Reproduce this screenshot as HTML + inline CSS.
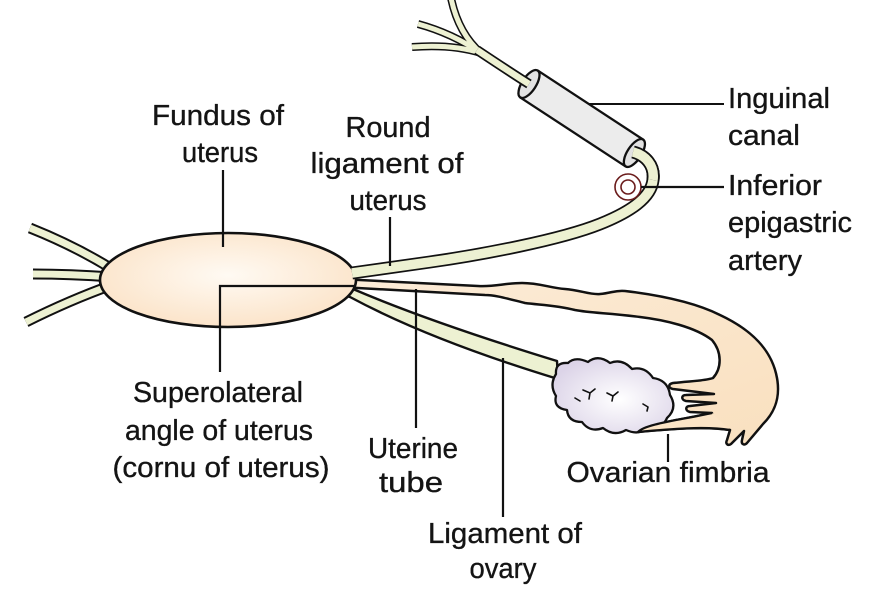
<!DOCTYPE html>
<html>
<head>
<meta charset="utf-8">
<style>
  html,body{margin:0;padding:0;background:#fff;}
  svg{display:block;}
  text{font-family:"Liberation Sans",sans-serif;font-size:29px;fill:#141414;stroke:#141414;stroke-width:0.35px;}
</style>
</head>
<body>
<svg width="872" height="600" viewBox="0 0 872 600" xmlns="http://www.w3.org/2000/svg">
  <defs>
    <radialGradient id="ug" cx="0.5" cy="0.45" r="0.6">
      <stop offset="0" stop-color="#fffaf3"/>
      <stop offset="1" stop-color="#fbe2c6"/>
    </radialGradient>
    <radialGradient id="og" cx="0.55" cy="0.55" r="0.6">
      <stop offset="0" stop-color="#ffffff"/>
      <stop offset="1" stop-color="#dcd4e8"/>
    </radialGradient>
    <linearGradient id="tg" x1="0" y1="0" x2="1" y2="1">
      <stop offset="0" stop-color="#fcecd8"/>
      <stop offset="1" stop-color="#f9e0bf"/>
    </linearGradient>
  </defs>

  <!-- left strands -->
  <g fill="none" stroke-linecap="butt">
    <path d="M112,269 Q75,246 30,228" stroke="#111" stroke-width="11"/>
    <path d="M112,269 Q75,246 30,228" stroke="#edf1d2" stroke-width="7"/>
    <path d="M112,277 Q70,274 33,274" stroke="#111" stroke-width="11"/>
    <path d="M112,277 Q70,274 33,274" stroke="#edf1d2" stroke-width="7"/>
    <path d="M112,285 Q70,300 26,322" stroke="#111" stroke-width="11"/>
    <path d="M112,285 Q70,300 26,322" stroke="#edf1d2" stroke-width="7"/>
  </g>

  <!-- ligament of ovary -->
  <path d="M340,286 L353,289 Q430,322 557,361 L558,379 Q430,340 350,297 L340,294 Z" fill="#edf1d2" stroke="#111" stroke-width="2.4" stroke-linejoin="round"/>

  <!-- uterine tube -->
  <path d="M340,279 L478,286 C495,287 505,283 522,283 C540,283 550,288 565,289 C580,290 590,295 600,294 C612,293 615,290 625,291 C650,294 690,300 720,315 C752,330 772,350 777,378 C781,400 773,414 763,424 L747,443 C744,446 741,444 742,440 L744,431 L731,444 C728,446 725,444 727,440 L730,430 C705,426 670,429 638,432 C645,424 680,420 712,413 L690,412 C685,411 685,406 690,406 L716,403 L686,401 C681,400 681,395 686,395 L714,394 L673,389 C668,388 668,384 673,383 C690,381 705,381 713,378 C722,368 722,352 712,340 C695,327 665,320 640,317 C610,313 590,313 575,310 C555,305 540,305 525,303 C505,298 495,295 485,295 L340,287 Z" fill="url(#tg)" stroke="#111" stroke-width="2.5" stroke-linejoin="round"/>

  <!-- uterus -->
  <ellipse cx="228" cy="280" rx="128" ry="47" fill="url(#ug)" stroke="#111" stroke-width="2.6"/>

  <!-- ovary -->
  <path d="M556,374 Q555,362 568,363 Q575,356 588,362 Q598,354 610,363 Q622,358 632,369 Q645,366 653,378 Q668,380 670,395 Q678,408 667,418 Q662,430 648,427 Q640,436 626,430 Q614,437 603,428 Q590,433 582,422 Q568,422 567,410 Q553,408 556,396 Q549,385 556,374 Z" fill="url(#og)" stroke="#111" stroke-width="2.3" stroke-linejoin="round"/>
  <g fill="none" stroke="#111" stroke-width="1.6" stroke-linecap="round">
    <path d="M583,390 L590,393 L595,389 M590,393 L589,399"/>
    <path d="M607,393 L613,396 L618,392 M613,396 L612,401"/>
    <path d="M643,404 L648,407 M648,407 L647,411"/>
    <path d="M575,398 L580,401"/>
  </g>
  <!-- ovarian fimbria redraw on top of ovary -->
  <path d="M730,430 C705,426 670,429 638,432 C645,424 680,420 712,413" fill="#fbe4c6" stroke="#111" stroke-width="2.3" stroke-linejoin="round"/>

  <!-- inguinal line (under tube) -->
  <line x1="580" y1="104" x2="724" y2="104" stroke="#111" stroke-width="2"/>

  <!-- round ligament -->
  <g fill="none" stroke-linecap="butt">
    <path d="M352,273 L430,262 C480,255 560,240 600,224 C630,212 651,198 653,180 C655,165 645,155 634,153" stroke="#111" stroke-width="13"/>
    <path d="M352,273 L430,262 C480,255 560,240 600,224 C630,212 651,198 653,180 C655,165 645,155 634,153" stroke="#edf1d2" stroke-width="9.5"/>
  </g>

  <!-- inguinal canal tube (explicit coordinates) -->
  <path d="M537.8,70.6 L643.2,139.6 L625.6,166.4 L520.2,97.4 Z" fill="#ececec" stroke="#111" stroke-width="2.3" stroke-linejoin="round"/>
  <ellipse cx="634.4" cy="153" rx="7" ry="16" transform="rotate(33.2 634.4 153)" fill="#e2e2e2" stroke="#111" stroke-width="2.3"/>
  <ellipse cx="529" cy="84" rx="7" ry="16" transform="rotate(33.2 529 84)" fill="#e2e2e2" stroke="#111" stroke-width="2.3"/>

  <!-- ligament emerging from right end -->
  <g fill="none" stroke-linecap="butt">
    <path d="M633,152 C645,155 655,165 653,180" stroke="#111" stroke-width="13"/>
    <path d="M633,152 C645,155 655,165 653,180" stroke="#edf1d2" stroke-width="9.5"/>
  </g>

  <!-- cord emerging from left end -->
  <g fill="none" stroke-linecap="butt">
    <path d="M481,53 C466,40 456,22 451,-2" stroke="#111" stroke-width="8"/>
    <path d="M481,53 C462,40 440,30 418,24" stroke="#111" stroke-width="8"/>
    <path d="M481,53 C462,47 438,45 412,47" stroke="#111" stroke-width="8"/>
    <path d="M481,53 C466,40 456,22 451,-2" stroke="#edf1d2" stroke-width="5"/>
    <path d="M481,53 C462,40 440,30 418,24" stroke="#edf1d2" stroke-width="5"/>
    <path d="M481,53 C462,47 438,45 412,47" stroke="#edf1d2" stroke-width="5"/>
    <path d="M529,84 C510,72 495,62 477,50" stroke="#111" stroke-width="10"/>
    <path d="M529,84 C510,72 495,62 477,50" stroke="#edf1d2" stroke-width="6.5"/>
  </g>

  <!-- inferior epigastric artery -->
  <circle cx="628" cy="187" r="13" fill="#fff" stroke="#6b1c1c" stroke-width="1.6"/>
  <circle cx="628" cy="187" r="7" fill="none" stroke="#6b1c1c" stroke-width="1.6"/>

  <!-- label lines -->
  <g stroke="#111" stroke-width="2.2" fill="none">
    <line x1="223" y1="170" x2="223" y2="247"/>
    <polyline points="355,286 220,286 220,372"/>
    <line x1="390" y1="217" x2="390" y2="266"/>
    <line x1="641" y1="187" x2="724" y2="187"/>
    <line x1="416" y1="289" x2="416" y2="428"/>
    <line x1="503" y1="358" x2="503" y2="517"/>
    <line x1="668" y1="434" x2="668" y2="462"/>
  </g>

  <!-- labels -->
  <g text-anchor="middle">
    <text x="218" y="125" textLength="132" lengthAdjust="spacingAndGlyphs">Fundus of</text>
    <text x="220" y="162" textLength="76" lengthAdjust="spacingAndGlyphs">uterus</text>
    <text x="388" y="137" textLength="85" lengthAdjust="spacingAndGlyphs">Round</text>
    <text x="387" y="173" textLength="153" lengthAdjust="spacingAndGlyphs">ligament of</text>
    <text x="388" y="210" textLength="77" lengthAdjust="spacingAndGlyphs">uterus</text>
    <text x="218" y="402" textLength="170" lengthAdjust="spacingAndGlyphs">Superolateral</text>
    <text x="219" y="440" textLength="188" lengthAdjust="spacingAndGlyphs">angle of uterus</text>
    <text x="221" y="477" textLength="217" lengthAdjust="spacingAndGlyphs">(cornu of uterus)</text>
    <text x="413" y="458" textLength="90" lengthAdjust="spacingAndGlyphs">Uterine</text>
    <text x="411" y="492" textLength="64" lengthAdjust="spacingAndGlyphs">tube</text>
    <text x="668" y="482" textLength="203" lengthAdjust="spacingAndGlyphs">Ovarian fimbria</text>
    <text x="505" y="543" textLength="154" lengthAdjust="spacingAndGlyphs">Ligament of</text>
    <text x="503" y="578" textLength="67" lengthAdjust="spacingAndGlyphs">ovary</text>
  </g>
  <g text-anchor="start">
    <text x="728" y="108" textLength="102" lengthAdjust="spacingAndGlyphs">Inguinal</text>
    <text x="728" y="145" textLength="72" lengthAdjust="spacingAndGlyphs">canal</text>
    <text x="728" y="195" textLength="94" lengthAdjust="spacingAndGlyphs">Inferior</text>
    <text x="728" y="232" textLength="124" lengthAdjust="spacingAndGlyphs">epigastric</text>
    <text x="728" y="270" textLength="74" lengthAdjust="spacingAndGlyphs">artery</text>
  </g>
</svg>
</body>
</html>
